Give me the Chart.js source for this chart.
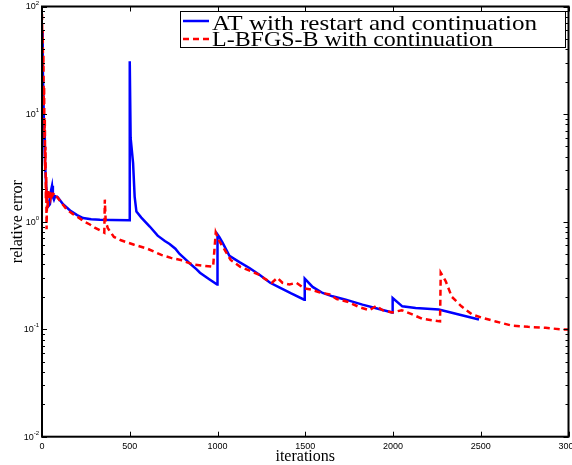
<!DOCTYPE html>
<html>
<head>
<meta charset="utf-8">
<script src="https://cdn.jsdelivr.net/npm/chart.js@4.4.0/dist/chart.umd.min.js"></script>
<style>
  html, body { margin: 0; padding: 0; background: #fff; }
  canvas { display: block; }
</style>
</head>
<body>
<canvas id="chart" width="572" height="465"></canvas>
<script>
// AT with restart and continuation
const atIter = [0, 4, 8, 12, 16, 20, 25, 30, 38, 45, 50, 57, 62, 68, 75, 90, 120, 160, 200, 234, 280, 330, 400, 498,
  500, 505, 519, 528, 538, 566, 614, 659, 700, 727, 760, 784, 815, 841, 881, 900, 955, 998,
  1000, 1010, 1028, 1068, 1125, 1182, 1239, 1300, 1352, 1420, 1494,
  1497, 1542, 1599, 1655, 1731, 1826, 1920, 1995,
  1998, 2053, 2129, 2261, 2375, 2490];
const atErr = [60, 30, 14, 7, 4, 2.8, 2.0, 1.6, 1.4, 1.45, 1.9, 2.15, 1.7, 1.6, 1.72, 1.68, 1.45, 1.27, 1.15, 1.08, 1.05, 1.04, 1.035, 1.03,
  31, 6, 3.5, 1.7, 1.24, 1.09, 0.9, 0.74, 0.66, 0.62, 0.56, 0.5, 0.45, 0.41, 0.36, 0.335, 0.29, 0.26,
  0.76, 0.72, 0.64, 0.48, 0.42, 0.37, 0.32, 0.27, 0.245, 0.215, 0.188,
  0.295, 0.247, 0.217, 0.202, 0.188, 0.169, 0.154, 0.143,
  0.195, 0.163, 0.157, 0.152, 0.137, 0.123];

// L-BFGS-B with continuation
const lbIter = [0, 2, 4, 6, 8, 10, 12, 14, 16, 18, 20, 22, 24, 26, 28, 30, 33, 36, 40, 45, 50, 55, 60, 70, 85, 110, 142, 175, 205, 240, 273, 300, 330, 355,
  358, 363, 375, 390, 410, 450, 525, 600, 680, 735, 790, 860, 915, 975,
  990, 1005, 1040, 1075, 1130, 1239, 1275, 1310, 1341, 1370, 1410, 1450, 1494, 1535, 1580, 1640, 1680, 1740, 1810, 1866, 1905, 1940, 1995, 2050, 2110, 2165, 2268,
  2272, 2300, 2335, 2390, 2450, 2505, 2585, 2675, 2770, 2870, 2970, 3000];
const lbErr = [85, 45, 60, 25, 35, 12, 18, 6, 9, 3, 5, 1.6, 2.6, 0.85, 1.4, 1.9, 1.3, 2.0, 1.6, 1.9, 1.7, 1.95, 1.75, 1.85, 1.7, 1.5, 1.29, 1.18, 1.1, 1.0, 0.94, 0.88, 0.83, 0.79,
  1.6, 1.0, 0.87, 0.8, 0.72, 0.67, 0.61, 0.56, 0.49, 0.46, 0.44, 0.40, 0.39, 0.38,
  0.79, 0.68, 0.55, 0.44, 0.38, 0.32, 0.29, 0.27, 0.30, 0.27, 0.26, 0.27, 0.24, 0.233, 0.22, 0.21, 0.19, 0.18, 0.16, 0.15, 0.165, 0.15, 0.143, 0.15, 0.137, 0.125, 0.118,
  0.335, 0.28, 0.2, 0.163, 0.137, 0.128, 0.118, 0.108, 0.105, 0.103, 0.099, 0.099];

const xTicks = [0, 500, 1000, 1500, 2000, 2500, 3000];
const yDecades = [-2, -1, 0, 1, 2];

const seriesLabels = ['AT with restart and continuation', 'L-BFGS-B with continuation'];

const BLUE = '#0000ff';
const RED = '#ff0000';

// axes box, inward ticks, tick labels, titles and legend (matlab look)
const matlabAxes = {
  id: 'matlabAxes',
  afterDraw(chart) {
    const ctx = chart.ctx;
    const a = chart.chartArea;
    const xs = chart.scales.x, ys = chart.scales.y;
    ctx.save();
    ctx.strokeStyle = '#000';
    ctx.fillStyle = '#000';

    // ticks
    ctx.lineWidth = 1;
    ctx.beginPath();
    xTicks.forEach(v => {
      const px = Math.round(xs.getPixelForValue(v)) + 0.5;
      ctx.moveTo(px, a.bottom); ctx.lineTo(px, a.bottom - 5);
      ctx.moveTo(px, a.top); ctx.lineTo(px, a.top + 5);
    });
    yDecades.forEach(d => {
      for (let m = 1; m < 10; m++) {
        if (d === 2 && m > 1) break;
        const py = Math.round(ys.getPixelForValue(m * Math.pow(10, d))) + 0.5;
        const len = m === 1 ? 5 : 3;
        ctx.moveTo(a.left, py); ctx.lineTo(a.left + len, py);
        ctx.moveTo(a.right, py); ctx.lineTo(a.right - len, py);
      }
    });
    ctx.stroke();

    // box
    ctx.lineWidth = 2;
    ctx.strokeRect(a.left, a.top, a.right - a.left, a.bottom - a.top);

    // x tick labels
    ctx.font = '9px "Liberation Sans", Arial, sans-serif';
    ctx.textAlign = 'center';
    ctx.textBaseline = 'alphabetic';
    xTicks.forEach(v => {
      ctx.fillText(String(v), xs.getPixelForValue(v), a.bottom + 12);
    });

    // y tick labels 10^d
    yDecades.forEach(d => {
      const py = ys.getPixelForValue(Math.pow(10, d));
      const exp = String(d);
      ctx.font = '6px "Liberation Sans", Arial, sans-serif';
      const ew = ctx.measureText(exp).width;
      const right = a.left - 3;
      ctx.textAlign = 'left';
      ctx.textBaseline = 'alphabetic';
      ctx.fillText(exp, right - ew, py - 2);
      ctx.font = '9px "Liberation Sans", Arial, sans-serif';
      ctx.textAlign = 'right';
      ctx.textBaseline = 'middle';
      ctx.fillText('10', right - ew, py + 0.5);
    });

    // axis titles
    ctx.font = '16px "Liberation Serif", "Times New Roman", serif';
    ctx.textAlign = 'center';
    ctx.textBaseline = 'alphabetic';
    ctx.fillText('iterations', (a.left + a.right) / 2, 461);
    ctx.save();
    ctx.translate(22, (a.top + a.bottom) / 2);
    ctx.rotate(-Math.PI / 2);
    ctx.fillText('relative error', 0, 0);
    ctx.restore();

    // legend
    const lx = 180.5, ly = 11.5, lw = 385, lh = 36;
    ctx.fillStyle = '#fff';
    ctx.fillRect(lx, ly, lw, lh);
    ctx.lineWidth = 1;
    ctx.strokeStyle = '#000';
    ctx.strokeRect(lx, ly, lw, lh);
    const rows = [
      { y: 21, color: BLUE, dash: [], base: 29.5, width: 325 },
      { y: 39, color: RED, dash: [6, 4], base: 46, width: 281 }
    ];
    rows.forEach((r, i) => {
      ctx.strokeStyle = r.color;
      ctx.lineWidth = 2.5;
      ctx.setLineDash(r.dash);
      ctx.beginPath();
      ctx.moveTo(183, r.y); ctx.lineTo(209, r.y);
      ctx.stroke();
      ctx.setLineDash([]);
      ctx.fillStyle = '#000';
      ctx.font = '21px "Liberation Serif", "Times New Roman", serif';
      ctx.textAlign = 'left';
      const w = ctx.measureText(seriesLabels[i]).width;
      ctx.save();
      ctx.translate(212, r.base);
      ctx.scale(r.width / w, 1);
      ctx.fillText(seriesLabels[i], 0, 0);
      ctx.restore();
    });
    ctx.restore();
  }
};

new Chart(document.getElementById('chart'), {
  type: 'line',
  data: {
    datasets: [
      {
        label: seriesLabels[0],
        data: atIter.map((x, i) => ({ x, y: atErr[i] })),
        borderColor: BLUE,
        borderWidth: 2.5,
        pointRadius: 0,
        tension: 0,
        order: 2
      },
      {
        label: seriesLabels[1],
        data: lbIter.map((x, i) => ({ x, y: lbErr[i] })),
        borderColor: RED,
        borderWidth: 2.5,
        borderDash: [6, 4],
        pointRadius: 0,
        tension: 0,
        order: 1
      }
    ]
  },
  options: {
    responsive: false,
    animation: false,
    devicePixelRatio: 1,
    layout: { padding: { left: 42, right: 3.5, top: 6.5, bottom: 28.3 } },
    plugins: { legend: { display: false }, tooltip: { enabled: false } },
    scales: {
      x: { type: 'linear', min: 0, max: 3000, display: false },
      y: { type: 'logarithmic', min: 0.01, max: 100, display: false }
    }
  },
  plugins: [matlabAxes]
});
</script>
</body>
</html>
